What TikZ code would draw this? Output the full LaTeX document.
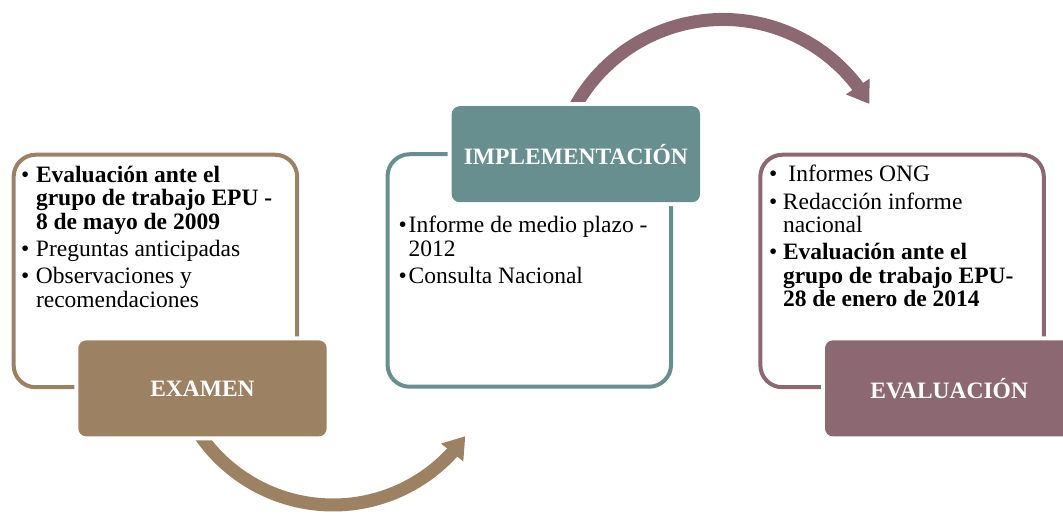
\documentclass[tikz,border=0pt]{standalone}
\usepackage{fontspec}
\setmainfont{Liberation Serif}
\usetikzlibrary{arrows.meta,bending}
\definecolor{cBrown}{HTML}{9C8263}
\definecolor{cTeal}{HTML}{688F8F}
\definecolor{cMauve}{HTML}{8C6872}
\newcommand{\listbox}[1]{\vtop{\hsize=330pt\parindent=0pt\parskip=4pt
  \fontsize{23.5}{23.4}\selectfont\lineskiplimit=-100pt\lineskip=0pt #1}}
\newcommand{\bitem}[2]{\hangindent=#1\hangafter=1\leavevmode\makebox[#1][l]{•}{#2}\par}
\tikzset{
  outlinebox/.style={draw=#1, line width=4pt, rounded corners=22pt, inner sep=0pt,
    minimum width=283.5pt, minimum height=232.5pt},
  labelbox/.style={fill=#1, rounded corners=8pt, inner sep=0pt,
    minimum width=248.4pt, minimum height=96pt, text=white,
    font=\fontsize{23.5}{28}\selectfont\bfseries,
    preaction={draw=white, line width=8pt}},
  bodytext/.style={inner sep=0pt, anchor=base west, text=black},
  cyclearrow/.style={draw=#1, line width=13pt, -{Triangle[width=27pt,length=21pt,fill=#1]}}
}
\begin{document}
\begin{tikzpicture}[x=1pt,y=1pt]
\useasboundingbox (0,0) rectangle (1063,516);
\clip (0,0) rectangle (1063,516);
% outline boxes
\node[outlinebox=cBrown] (boxL) at (155.4,245) {};
\node[outlinebox=cTeal]  (boxM) at (529.3,245.5) {};
\node[outlinebox=cMauve] (boxR) at (902.1,245) {};
% body texts
\node[bodytext] (txtL) at (20.8,333.7) {\listbox{%
  \bitem{15pt}{\bfseries Evaluación ante el\newline grupo de trabajo EPU -\newline 8 de mayo de 2009}%
  \bitem{15pt}{Preguntas anticipadas}%
  \bitem{15pt}{Observaciones y\newline recomendaciones}}};
\node[bodytext] (txtM) at (398.5,283) {\listbox{%
  \bitem{10pt}{Informe de medio plazo -\newline 2012}%
  \bitem{10pt}{Consulta Nacional}}};
\node[bodytext] (txtR) at (768.8,334.3) {\listbox{%
  \bitem{14pt}{\hspace{5.5pt}Informes ONG}%
  \bitem{14pt}{Redacción informe\newline nacional}%
  \bitem{14pt}{\bfseries Evaluación ante el\newline grupo de trabajo EPU-\newline 28 de enero de 2014}}};
% arrows (behind the label boxes)
\coordinate (arcB) at (193.14,91.75);
\coordinate (arcT) at (571.1,401.6);
\draw[cyclearrow=cBrown] (arcB) arc[start angle=210, end angle=325, radius=161.5];
\draw[cyclearrow=cMauve] (arcT) arc[start angle=154, end angle=30, radius=169];
% label boxes
\node[labelbox=cBrown] (examen) at (202.5,127.65) {EXAMEN};
\node[labelbox=cTeal]  (impl)   at (575.85,361.8) {IMPLEMENTACIÓN};
\node[labelbox=cMauve] (eval)   at (949.2,127.65) {EVALUACIÓN};
\end{tikzpicture}
\end{document}
